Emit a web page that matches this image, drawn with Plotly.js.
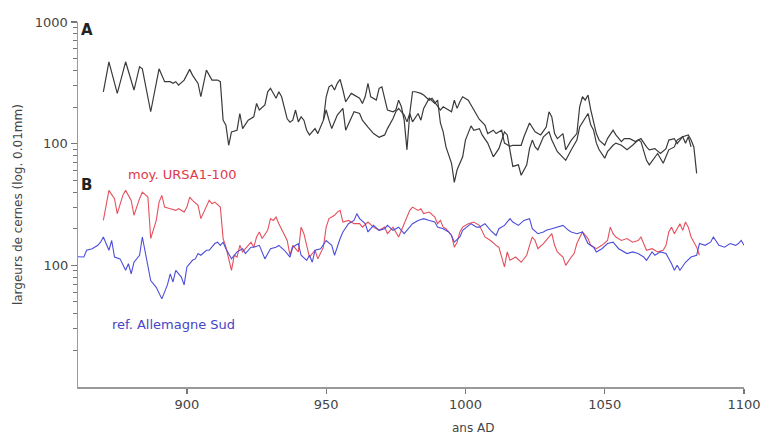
<!DOCTYPE html>
<html>
<head>
<meta charset="utf-8">
<script src="https://cdn.plot.ly/plotly-3.0.1.min.js"></script>
<style>html,body{margin:0;padding:0;background:#fff;}#chart{width:765px;height:435px;}</style>
</head>
<body>
<div id="chart"></div>
<script>
// Panel A — two individual series (ring widths, 0.01 mm)
const yearsA1 = [870,872,875,878,881,883,884,887,890,892,894,895,896,897,899,901,902,904,905,907,909,911,912,913,914,915,916,918,919,920,922,924,925,926,928,929,930,932,933,934,936,937,938,939,940,941,942,943,944,946,947,948,949,
950,951,952,953,954,955,956,957,959,960,962,963,964,965,966,968,969,970,971,972,974,975,976,977,978,979,980,981,982,984,985,987,988,990,991,992,993,995,996,997,998,999,1001,1002,1004,1005,1007,1008,1010,1011,1013,1014,1016,1017,1020,1021,1023,1025,1027,1029,1030,1031,1032,1033,1035,1036,1038,1040,1041,1042,1043,1044,1045,1046,1047,1048,1050,1051,1053,1054,1056,1057,1059,1061,1063,1065,1066,1068,1070,1072,1073,1075,1076,1078,1080,1081,1082,1083];
const valuesA1 = [267,471,259,471,276,429,412,183,412,323,323,313,323,303,333,408,366,313,243,402,333,333,323,156,142,97,125,129,177,133,156,166,214,189,208,267,285,236,267,243,160,150,156,189,151,166,156,129,118,133,121,137,156,
243,293,303,276,313,337,276,221,259,251,236,214,243,313,243,228,285,293,228,189,183,189,228,201,156,89,177,267,267,259,251,228,236,201,189,201,195,183,228,195,221,243,228,208,177,158,142,121,129,121,129,101,95,97,97,114,148,125,118,137,183,166,121,110,121,89,107,121,201,243,228,251,189,151,121,107,97,110,129,118,104,110,110,104,110,94,89,91,83,91,107,110,100,114,118,107,94,57];

const yearsA2 = [949,950,951,952,954,956,957,959,960,962,963,965,967,969,971,972,974,975,976,978,979,980,981,983,984,985,986,987,989,990,991,992,993,995,996,997,999,1000,1002,1003,1005,1006,1008,1010,1012,1014,1015,1016,1017,1019,1020,1022,1023,1024,1025,1026,1028,1030,1031,1033,1035,1036,1038,1040,1041,1042,1044,1045,1046,1047,1048,1050,1051,1053,1054,1056,1058,1060,1062,1063,1065,1066,1068,1069,1071,1073,1075,1076,1078,1079,1080,1081];
const valuesA2 = [156,189,156,133,172,195,129,166,183,177,156,137,121,113,118,133,161,183,195,172,151,177,151,177,156,195,214,236,214,228,148,125,94,69,48,61,78,107,140,129,133,118,101,78,91,125,118,89,65,67,55,67,91,107,94,89,114,125,107,86,78,73,89,107,137,148,177,142,129,101,89,76,86,97,101,97,89,97,107,104,73,67,78,83,69,89,94,107,114,101,114,94];

// Panel B — mean curve and regional reference
const yearsRed = [870,871,872,874,875,877,878,880,881,883,884,886,887,889,890,891,892,894,896,897,899,900,901,902,904,905,907,908,909,910,912,913,914,915,916,917,918,919,920,921,923,924,925,926,927,929,930,931,932,933,935,936,937,938,940,941,942,944,946,947,949,950,951,953,954,955,956,958,960,962,963,965,967,969,971,972,974,976,978,980,981,983,984,985,987,989,990,991,992,993,995,996,997,998,999,1001,1003,1005,1007,1009,1011,1012,1014,1015,1016,1018,1020,1022,1023,1024,1025,1026,1028,1029,1031,1032,1033,1035,1036,1038,1039,1040,1041,1042,1044,1045,1047,1049,1051,1052,1053,1054,1056,1058,1060,1062,1063,1064,1065,1067,1069,1071,1072,1073,1074,1075,1077,1078,1079,1080,1081,1083,1084];
const valuesRed = [234,321,413,353,266,376,413,342,258,353,400,364,166,234,331,376,301,292,283,292,274,301,364,342,311,242,301,342,321,331,301,166,141,113,91,121,117,146,129,137,155,141,171,188,166,194,242,234,249,220,176,160,121,146,129,206,182,117,133,113,141,206,242,258,274,283,227,234,220,220,206,227,206,194,206,182,206,171,220,283,301,283,292,266,274,249,220,234,206,200,176,141,155,188,206,220,227,213,171,160,146,141,97,129,110,117,106,121,146,171,160,137,151,160,182,146,129,117,100,117,125,151,171,188,166,146,137,146,160,206,182,171,160,166,155,160,171,151,133,137,129,133,146,188,206,182,220,194,227,206,171,141,121];

const yearsBlue = [860,863,864,866,868,869,870,872,873,874,876,878,879,880,881,883,884,885,886,887,889,891,893,894,895,896,898,899,900,902,903,904,905,907,908,910,911,912,913,914,916,917,918,920,921,923,924,926,928,930,932,933,935,937,938,940,941,943,944,945,946,948,950,952,953,955,956,958,960,961,962,964,965,967,969,971,972,974,976,978,980,981,983,985,987,989,990,992,994,995,996,998,999,1001,1002,1004,1005,1007,1009,1011,1012,1014,1016,1017,1019,1021,1023,1024,1026,1028,1029,1031,1033,1035,1037,1038,1040,1042,1044,1046,1047,1049,1051,1053,1055,1056,1058,1060,1062,1064,1065,1067,1068,1070,1072,1074,1075,1076,1077,1079,1081,1083,1084,1086,1088,1089,1091,1093,1095,1097,1098,1099,1100];
const valuesBlue = [118,117,133,137,146,155,171,133,160,117,113,91,103,85,106,121,171,129,97,75,66,53,69,85,73,91,80,69,97,110,113,125,121,133,133,151,155,146,155,137,113,121,129,137,125,141,141,146,113,137,141,146,133,117,141,151,121,110,121,106,133,137,160,146,121,166,188,220,234,266,242,220,188,213,194,200,213,194,206,182,206,220,234,242,234,227,206,200,188,176,155,171,194,213,220,206,206,220,194,176,200,213,242,227,213,234,242,200,182,188,194,200,206,213,194,188,182,188,151,141,129,137,151,155,137,133,125,129,125,117,110,129,121,129,125,103,91,100,91,106,117,121,151,146,155,171,146,141,151,146,151,160,146];

const xTicks = [900, 950, 1000, 1050, 1100];
const yTicksA = [100, 1000];
const yTicksB = [100];

// minor log ticks (2..9 in each decade of the left axis)
const minorTicks = [];
[1, 10, 100].forEach(d => { for (let m = 2; m <= 9; m++) minorTicks.push(m * d); });

const FONT = 'DejaVu Sans, Arial, sans-serif';
const GRAY = '#444';
const TICKC = '#777';

const traces = [
  // carrier for the minor-tick axis (drawn transparent)
  {x: yearsA1, y: valuesA1, type: 'scatter', mode: 'lines', line: {color: 'rgba(0,0,0,0)', width: 0}, yaxis: 'y3', hoverinfo: 'skip'},
  {x: yearsA1, y: valuesA1, type: 'scatter', mode: 'lines', line: {color: '#3a3a3a', width: 1.2}, yaxis: 'y', hoverinfo: 'skip'},
  {x: yearsA2, y: valuesA2, type: 'scatter', mode: 'lines', line: {color: '#3a3a3a', width: 1.2}, yaxis: 'y', hoverinfo: 'skip'},
  {x: yearsRed, y: valuesRed, type: 'scatter', mode: 'lines', line: {color: '#e4505e', width: 1.1}, yaxis: 'y2', hoverinfo: 'skip'},
  {x: yearsBlue, y: valuesBlue, type: 'scatter', mode: 'lines', line: {color: '#4d4ddb', width: 1.1}, yaxis: 'y2', hoverinfo: 'skip'}
];

const layout = {
  width: 765, height: 435,
  margin: {l: 78, r: 21, t: 22, b: 48},
  paper_bgcolor: '#fff', plot_bgcolor: '#fff',
  showlegend: false,
  font: {family: FONT, color: GRAY},
  xaxis: {
    range: [860.9, 1100], tickvals: xTicks, ticktext: xTicks.map(String),
    ticks: 'outside', ticklen: 5, tickcolor: TICKC, tickwidth: 1.3,
    showline: true, linecolor: '#999', linewidth: 1.5, showgrid: false, zeroline: false,
    tickfont: {family: FONT, size: 13, color: GRAY}
  },
  yaxis: {
    type: 'log', range: [0, 3], tickvals: yTicksA, ticktext: yTicksA.map(String),
    ticks: 'outside', ticklen: 6, tickcolor: TICKC, tickwidth: 1.3,
    showline: true, linecolor: '#999', linewidth: 1.5, showgrid: false, zeroline: false,
    tickfont: {family: FONT, size: 13, color: GRAY}
  },
  yaxis2: {
    type: 'log', range: [1, 4], overlaying: 'y', side: 'left', tickvals: yTicksB, ticktext: yTicksB.map(String),
    ticks: 'outside', ticklen: 6, tickcolor: TICKC, tickwidth: 1.3,
    showline: false, showgrid: false, zeroline: false,
    tickfont: {family: FONT, size: 13, color: GRAY}
  },
  yaxis3: {
    type: 'log', range: [0, 3], overlaying: 'y', side: 'left', tickvals: minorTicks,
    showticklabels: false, ticks: 'outside', ticklen: 4, tickcolor: TICKC, tickwidth: 1,
    showline: false, showgrid: false, zeroline: false
  },
  annotations: [
    {text: 'ans AD', xref: 'paper', yref: 'paper', x: 0.593, y: -0.112, xanchor: 'center', yanchor: 'middle', showarrow: false, font: {family: FONT, size: 12, color: GRAY}},
    {text: 'largeurs de cernes (log. 0.01mm)', xref: 'paper', yref: 'paper', x: -0.09, y: 0.4986, textangle: -90, xanchor: 'center', yanchor: 'middle', showarrow: false, font: {family: FONT, size: 12, color: GRAY}},
    {text: '<b>A</b>', xref: 'paper', yref: 'paper', x: 0.0015, y: 0.978, xanchor: 'left', yanchor: 'middle', showarrow: false, font: {family: FONT, size: 15, color: '#222'}},
    {text: '<b>B</b>', xref: 'paper', yref: 'paper', x: 0.0015, y: 0.553, xanchor: 'left', yanchor: 'middle', showarrow: false, font: {family: FONT, size: 15, color: '#222'}},
    {text: 'moy. URSA1-100', xref: 'paper', yref: 'paper', x: 0.156, y: 0.581, xanchor: 'center', yanchor: 'middle', showarrow: false, font: {family: FONT, size: 13, color: '#e03a4a'}},
    {text: 'ref. Allemagne Sud', xref: 'paper', yref: 'paper', x: 0.143, y: 0.170, xanchor: 'center', yanchor: 'middle', showarrow: false, font: {family: FONT, size: 13, color: '#4545c8'}}
  ]
};

Plotly.newPlot('chart', traces, layout, {staticPlot: true, displayModeBar: false});
</script>
</body>
</html>
